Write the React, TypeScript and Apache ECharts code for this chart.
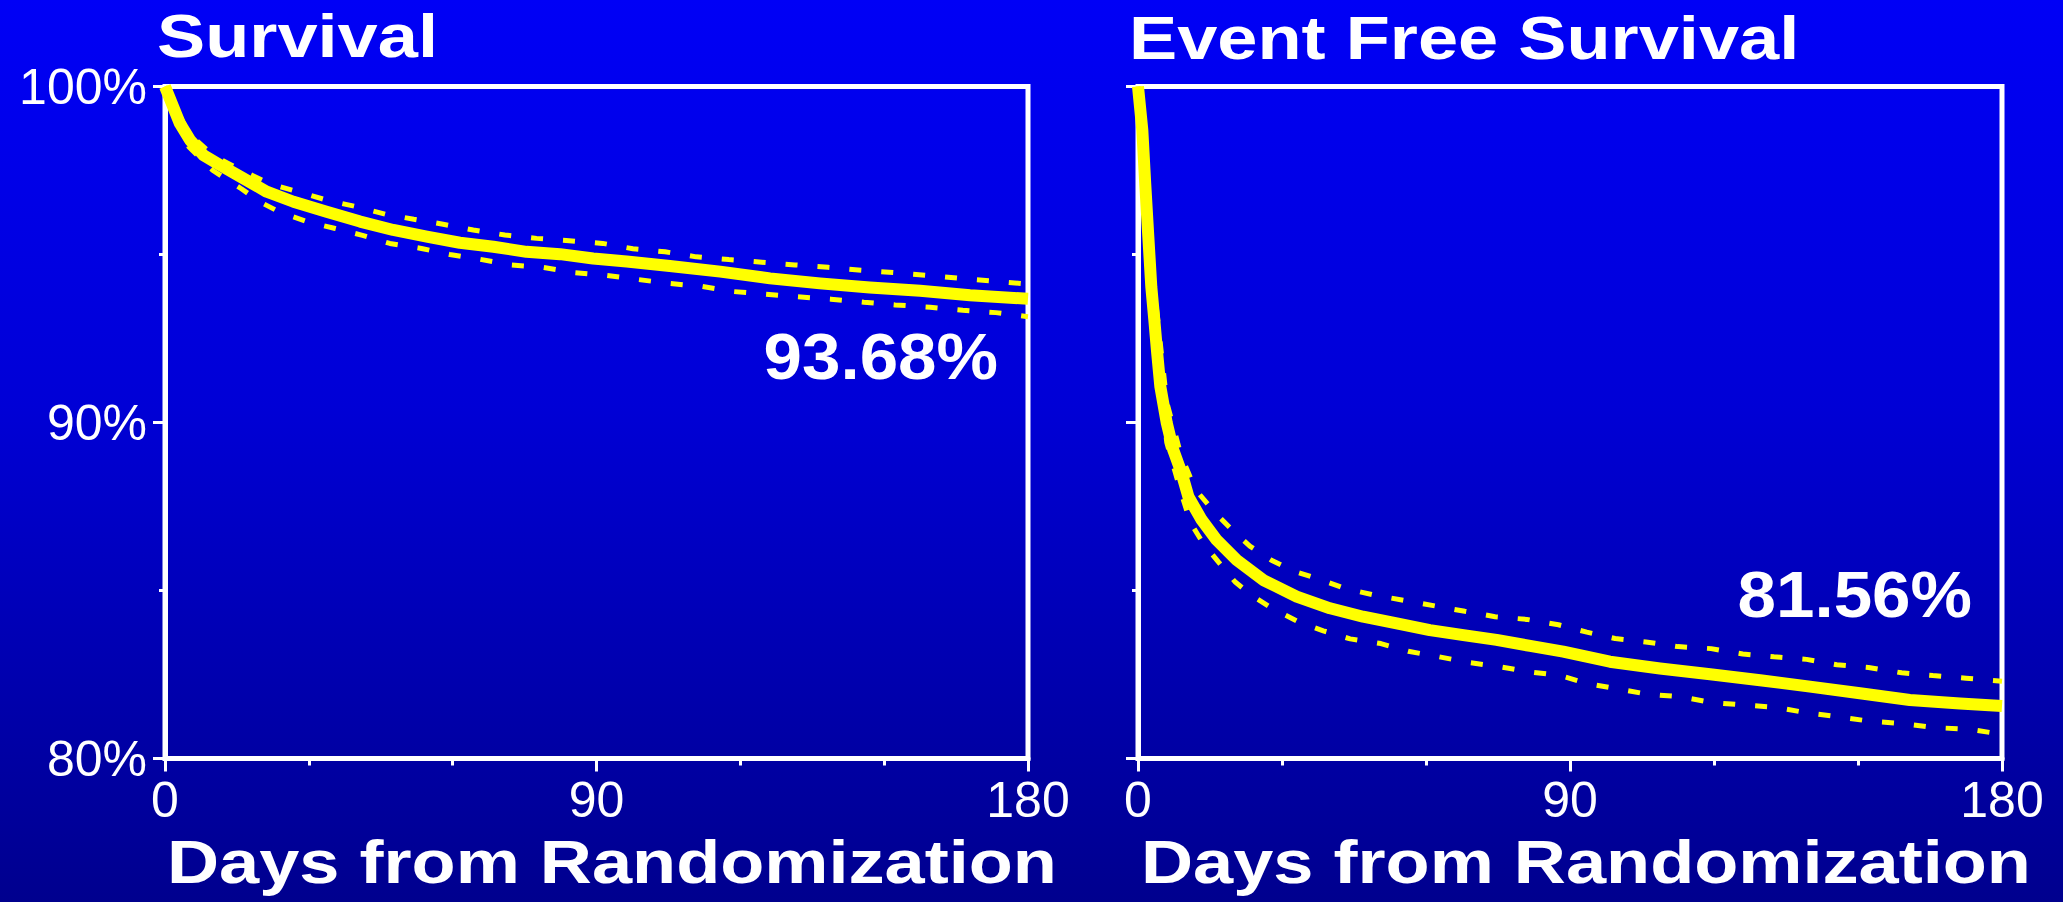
import React, { useEffect, useRef } from "react";
import * as echarts from "echarts";

// ---- Survival (left panel) ----
const SURV_DAYS = [0, 1.7, 3.1, 5.2, 8, 11.5, 16.3, 21.2, 26.8, 33.7, 40.7, 47.6, 54.6, 61.5, 68.5, 75.4, 82.4, 89.3, 96.3, 105.3, 115.8, 126.2, 136.6, 147, 157.5, 167.9, 180];
const SURV_VALUES = [100, 99.4, 98.9, 98.41, 97.96, 97.66, 97.27, 96.87, 96.57, 96.27, 95.98, 95.73, 95.53, 95.35, 95.23, 95.08, 95.01, 94.88, 94.79, 94.66, 94.49, 94.29, 94.14, 94.02, 93.92, 93.79, 93.68];
const SURV_UP_DAYS = [0, 5, 10, 16, 22, 28.2, 33.7, 40, 45.9, 51.9, 58, 64.3, 70.9, 77.5, 84.3, 91.3, 97.6, 104.3, 110.8, 117.6, 124.5, 131.4, 138.3, 145.2, 152.1, 159, 165.8, 172.7, 180];
const SURV_UP_VALUES = [100, 98.6, 97.95, 97.5, 97.1, 96.85, 96.62, 96.42, 96.2, 96.05, 95.9, 95.73, 95.58, 95.48, 95.41, 95.33, 95.17, 95.08, 94.93, 94.85, 94.77, 94.69, 94.62, 94.53, 94.46, 94.38, 94.29, 94.21, 94.12];
const SURV_LO_DAYS = [0, 5, 10, 16, 20, 24.1, 29.6, 35.3, 41.2, 46.9, 53.5, 59.4, 65.6, 72, 78.6, 85.4, 92, 98.4, 105.1, 112, 118.3, 125.2, 132, 138.9, 145.8, 152.3, 159.6, 166.4, 173.3, 180];
const SURV_LO_VALUES = [100, 98.2, 97.5, 96.95, 96.55, 96.25, 95.98, 95.78, 95.57, 95.33, 95.18, 95.0, 94.86, 94.69, 94.62, 94.46, 94.38, 94.26, 94.14, 94.05, 93.9, 93.82, 93.74, 93.67, 93.58, 93.5, 93.43, 93.34, 93.27, 93.15];

// ---- Event free survival (right panel) ----
const EFS_DAYS = [0, 0.9, 1.5, 2.15, 2.77, 3.4, 4.0, 4.65, 6.0, 7.35, 9.1, 10.5, 13.27, 16.4, 20.56, 26.1, 33.06, 40, 46.9, 53.9, 60.8, 67.8, 74.7, 81.7, 88.6, 98.3, 108.75, 119.2, 129.6, 140, 150.4, 160.8, 171.25, 180];
const EFS_VALUES = [100, 98.7, 97.12, 95.53, 94.04, 93.05, 92.06, 91.07, 89.98, 89.18, 88.49, 87.79, 87.1, 86.5, 85.91, 85.31, 84.82, 84.47, 84.22, 84.02, 83.82, 83.67, 83.53, 83.35, 83.18, 82.88, 82.68, 82.51, 82.33, 82.14, 81.94, 81.74, 81.64, 81.56];
const EFS_UP_DAYS = [0, 3, 6, 9, 12, 16, 19.5, 23.3, 27.8, 32.4, 37.9, 43.1, 49.4, 55.6, 61.9, 68.1, 74.4, 81, 87.6, 93.5, 99.4, 105.8, 112.5, 119.4, 126, 132.5, 139.3, 145.6, 152.2, 159.1, 165.6, 172.5, 180];
const EFS_UP_VALUES = [100, 94.5, 90.6, 89.0, 88.0, 87.32, 86.82, 86.32, 85.9, 85.58, 85.33, 85.06, 84.86, 84.7, 84.54, 84.38, 84.22, 84.14, 83.98, 83.76, 83.57, 83.47, 83.33, 83.27, 83.11, 83.03, 82.95, 82.79, 82.71, 82.55, 82.47, 82.39, 82.3];
const EFS_LO_DAYS = [0, 3, 6, 9, 11, 13.6, 16.7, 20.2, 24, 28.3, 33.4, 38.6, 44.2, 50.6, 56.3, 62.6, 68.8, 75.3, 81.5, 87.9, 93.7, 99.9, 106.3, 113, 119.3, 126.3, 133.1, 139.3, 145.9, 152.5, 159.3, 166, 173.1, 180];
const EFS_LO_VALUES = [100, 93.3, 89.4, 87.9, 87.0, 86.4, 85.86, 85.26, 84.82, 84.44, 84.07, 83.8, 83.56, 83.42, 83.19, 83.03, 82.86, 82.73, 82.58, 82.47, 82.23, 82.07, 81.91, 81.84, 81.67, 81.59, 81.52, 81.36, 81.24, 81.11, 81.04, 80.92, 80.87, 80.72];

const TITLES = ["Survival", "Event Free Survival"];
const AXIS_NAME = "Days from Randomization";
const END_LABELS = ["93.68%", "81.56%"];

const zip = (xs: number[], ys: number[]) => xs.map((x, i) => [x, ys[i]]);

const WHITE = "#ffffff";
const YELLOW = "#ffff00";
const SHADOW = {
  textShadowColor: "#000000",
  textShadowOffsetX: 3,
  textShadowOffsetY: 3,
  textShadowBlur: 0,
};

function makeXAxis(gridIndex: number) {
  return {
    type: "value",
    gridIndex,
    min: 0,
    max: 180,
    interval: 90,
    axisLine: { show: true, onZero: false, lineStyle: { color: WHITE, width: 5 } },
    axisTick: { show: true, length: 13, lineStyle: { color: WHITE, width: 3 } },
    minorTick: { show: true, splitNumber: 3, length: 7, lineStyle: { color: WHITE, width: 3 } },
    splitLine: { show: false },
    axisLabel: {
      show: true,
      color: WHITE,
      fontFamily: '"Liberation Sans", Arial, sans-serif',
      fontSize: 50,
      margin: 16,
      ...SHADOW,
    },
  };
}

function makeYAxis(gridIndex: number, labels: boolean) {
  return {
    type: "value",
    gridIndex,
    min: 80,
    max: 100,
    interval: 10,
    axisLine: { show: true, onZero: false, lineStyle: { color: WHITE, width: 5 } },
    axisTick: { show: true, length: 12, lineStyle: { color: WHITE, width: 3 } },
    minorTick: { show: true, splitNumber: 2, length: 6, lineStyle: { color: WHITE, width: 3 } },
    splitLine: { show: false },
    axisLabel: {
      show: labels,
      formatter: "{value}%",
      color: WHITE,
      fontFamily: '"Liberation Sans", Arial, sans-serif',
      fontSize: 50,
      margin: 18,
      ...SHADOW,
    },
  };
}

function ciSeries(idx: number, data: number[][]) {
  return {
    type: "line",
    xAxisIndex: idx,
    yAxisIndex: idx,
    data,
    showSymbol: false,
    symbol: "none",
    clip: false,
    z: 3,
    lineStyle: { color: YELLOW, width: 5, type: [12, 20], cap: "butt" },
  };
}

function mainSeries(idx: number, data: number[][]) {
  return {
    type: "line",
    xAxisIndex: idx,
    yAxisIndex: idx,
    data,
    showSymbol: false,
    symbol: "none",
    clip: false,
    z: 4,
    lineStyle: { color: YELLOW, width: 12, cap: "butt", join: "round" },
  };
}

function textEl(text: string, x: number, y: number, font: string, scaleX: number, align: string, lineHeight: number) {
  return {
    type: "text",
    x,
    y,
    scaleX,
    z: 10,
    style: {
      text,
      x: 0,
      y: 0,
      fill: WHITE,
      font,
      lineHeight,
      textAlign: align,
      textVerticalAlign: "middle",
      shadowColor: "#000000",
      shadowOffsetX: 3,
      shadowOffsetY: 3,
      shadowBlur: 0,
      ...SHADOW,
    },
  };
}

const TITLE_FONT = 'bold 62px "Liberation Sans", Arial, sans-serif';
const NAME_FONT = 'bold 61px "Liberation Sans", Arial, sans-serif';
const VALUE_FONT = 'bold 64px "Liberation Sans", Arial, sans-serif';

export default function App() {
  const ref = useRef<HTMLDivElement>(null);
  useEffect(() => {
    if (!ref.current) return;
    const chart = echarts.init(ref.current, null, { renderer: "svg" });
    const option = {
      animation: false,
      backgroundColor: {
        type: "linear",
        x: 0,
        y: 0,
        x2: 0,
        y2: 1,
        colorStops: [
          { offset: 0, color: "#0000f6" },
          { offset: 0.45, color: "#0000d6" },
          { offset: 1, color: "#00008e" },
        ],
      },
      grid: [
        { left: 165, top: 86.5, width: 863, height: 672, show: true, borderColor: WHITE, borderWidth: 5, backgroundColor: "transparent" },
        { left: 1138, top: 86.5, width: 864, height: 672, show: true, borderColor: WHITE, borderWidth: 5, backgroundColor: "transparent" },
      ],
      xAxis: [makeXAxis(0), makeXAxis(1)],
      yAxis: [makeYAxis(0, true), makeYAxis(1, false)],
      series: [
        ciSeries(0, zip(SURV_UP_DAYS, SURV_UP_VALUES)),
        ciSeries(0, zip(SURV_LO_DAYS, SURV_LO_VALUES)),
        mainSeries(0, zip(SURV_DAYS, SURV_VALUES)),
        ciSeries(1, zip(EFS_UP_DAYS, EFS_UP_VALUES)),
        ciSeries(1, zip(EFS_LO_DAYS, EFS_LO_VALUES)),
        mainSeries(1, zip(EFS_DAYS, EFS_VALUES)),
      ],
      graphic: [
        textEl(TITLES[0], 157, 35, TITLE_FONT, 1.165, "left", 62),
        textEl(TITLES[1], 1129, 37, TITLE_FONT, 1.165, "left", 62),
        textEl(AXIS_NAME, 167, 862, NAME_FONT, 1.183, "left", 50),
        textEl(AXIS_NAME, 1141, 862, NAME_FONT, 1.183, "left", 50),
        textEl(END_LABELS[0], 998, 357, VALUE_FONT, 1.08, "right", 64),
        textEl(END_LABELS[1], 1972, 595, VALUE_FONT, 1.08, "right", 64),
      ],
    };
    chart.setOption(option as any);
    return () => chart.dispose();
  }, []);
  return (
    <div
      ref={ref}
      style={{ position: "fixed", left: 0, top: 0, width: 2063, height: 902 }}
    />
  );
}
